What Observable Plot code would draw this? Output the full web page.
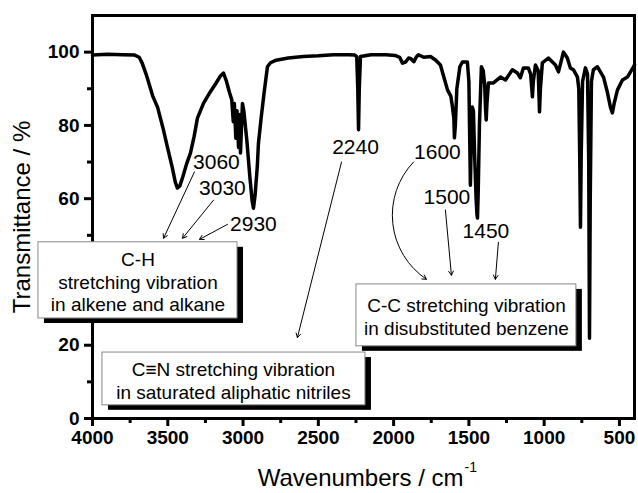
<!DOCTYPE html>
<html><head><meta charset="utf-8">
<script src="https://cdn.jsdelivr.net/npm/d3@7"></script>
<script src="https://cdn.jsdelivr.net/npm/@observablehq/plot@0.6"></script>
<style>body{margin:0;background:#fff}</style>
</head><body><div id="chart"></div>
<script>
// IR spectrum: wavenumber (cm-1) and transmittance (%)
const wavenumber = [
  4000,3900,3800,3720,3690,3670,3640,3600,3568,3530,
  3502,3470,3450,3436,3420,3400,3375,3349,3325,3303,
  3263,3220,3180,3150,3130,3110,3090,3075,3065,3058,
  3048,3040,3030,3022,3017,3010,3004,2995,2975,2955,
  2940,2931,2920,2905,2898,2880,2860,2838,2818,2780,
  2700,2600,2500,2400,2300,2258,2245,2238,2233,2228,
  2220,2150,2050,1990,1960,1941,1920,1900,1888,1865,
  1850,1835,1800,1755,1720,1689,1665,1642,1620,1609,
  1600,1596,1590,1580,1560,1543,1510,1500,1494,1490,
  1486,1478,1470,1462,1452,1446,1443,1438,1430,1417,
  1405,1395,1390,1385,1380,1370,1337,1290,1257,1211,
  1178,1158,1138,1105,1090,1082,1078,1072,1058,1040,
  1034,1031,1025,1012,972,925,905,872,846,826,
  806,779,770,764,759,754,745,726,712,704,
  699,694,686,673,646,606,580,560,547,535,
  513,480,447,407,400
];
const transmittance = [
  99.2,99.4,99.3,99.2,98.6,97,93.5,88,85,79,
  74,68.5,64.5,62.9,63.5,66,69.5,72.5,77,82,
  86,89,91.5,93.5,94.3,92,89,87,81,86,
  76.5,84,74,83,72.5,80,86,84,76,66,
  59.5,57.4,61,69,75,82,89,96,97.1,97.8,
  98.4,98.8,99,99.3,99.3,99.2,98.8,90,78.8,90,
  98.8,99.3,99.3,99.1,98.6,97,97.3,98.4,98.3,97.4,
  98.6,99.3,98.6,98.8,97.8,96.5,93,89.7,88,85,
  82,76.6,80,90,96,97.3,97.3,92,75,63.7,
  72,85,84,72,60,55.5,54.7,62,80,96,
  95,91,85,81.5,86,91.6,91.6,93.2,92.4,95.2,
  94.3,93,95.7,95.7,94,90,87.8,92,96.5,95,
  88,83.7,90,97.1,98.4,96.5,94.6,100,98.4,95.7,
  95.2,93.2,90,72,52.2,72,92,95.7,94,70,
  21.9,60,92,95.2,96,93.2,89,85,83.4,86,
  89.7,92.4,93.2,96,96.5
];

// axis ticks (the 40 label is hidden behind the C-H box in the reference)
const xTicks = [4000,3500,3000,2500,2000,1500,1000,500];
const xMinorTicks = [3750,3250,2750,2250,1750,1250,750];
const yTicks = [0,20,40,60,80,100];
const yTickLabels = ["0","20","","60","80","100"];
const yMinorTicks = [10,30,50,70,90];

// peak labels (data units)
const peakLabels = ["3060","3030","2930","2240","1600","1500","1450"];
const peakLabelX = [3177,3137,2931,2253,1709,1646,1387];
const peakLabelY = [70.0,62.9,53.0,74.1,72.7,60.4,51.1];

// straight arrows (data units)
const arrowX1 = [3323,3196,3103,2346,1656,1304];
const arrowY1 = [67.3,59.6,53.0,70.0,56.9,48.1];
const arrowX2 = [3528,3402,3289,2639,1616,1324];
const arrowY2 = [49.2,49.2,48.9,22.1,39.1,38.0];
// curved arrow from the 1600 label
const curvedX1 = [1868], curvedY1 = [70.0], curvedX2 = [1782], curvedY2 = [38.0];

// annotation boxes (data units)
const boxText = [
  "C-H\nstretching vibration\nin alkene and alkane",
  "C\u2261N stretching vibration\nin saturated aliphatic nitriles",
  "C-C stretching vibration\nin disubstituted benzene"
];
const boxX1 = [4359,3934,2247];
const boxX2 = [3037,2187,786];
const boxY1 = [48.1,18.0,36.6];
const boxY2 = [27.3,3.6,19.7];
const boxTextX = [3698,3064,1516];
const boxTextY = [37.4,10.4,27.9];

const spectrum = wavenumber.map((w, i) => ({w, t: transmittance[i]}));
const peaks = peakLabels.map((s, i) => ({s, x: peakLabelX[i], y: peakLabelY[i]}));
const arrows = arrowX1.map((_, i) => ({x1: arrowX1[i], y1: arrowY1[i], x2: arrowX2[i], y2: arrowY2[i]}));
const curved = curvedX1.map((_, i) => ({x1: curvedX1[i], y1: curvedY1[i], x2: curvedX2[i], y2: curvedY2[i]}));
const boxes = boxText.map((s, i) => ({s, x1: boxX1[i], x2: boxX2[i], y1: boxY1[i], y2: boxY2[i], tx: boxTextX[i], ty: boxTextY[i]}));

const chart = Plot.plot({
  width: 638, height: 493,
  marginLeft: 92, marginRight: 4, marginTop: 15, marginBottom: 75,
  style: {fontFamily: "'Liberation Sans', Arial, Helvetica, sans-serif", background: "white", color: "black", overflow: "visible"},
  x: {domain: [4000, 400], label: null},
  y: {domain: [0, 110], label: null},
  marks: [
    Plot.axisX(xTicks, {tickSize: 8, tickPadding: 4, strokeWidth: 3, fontSize: 19, fontWeight: "bold", tickFormat: d => String(d), label: null}),
    Plot.axisX(xMinorTicks, {tickSize: 5, strokeWidth: 3, tickFormat: () => "", label: null}),
    Plot.axisY(yTicks, {tickSize: 8, tickPadding: 5, strokeWidth: 3, fontSize: 19, fontWeight: "bold", tickFormat: d => yTickLabels[yTicks.indexOf(d)], label: null}),
    Plot.axisY(yMinorTicks, {tickSize: 5, strokeWidth: 3, tickFormat: () => "", label: null}),
    Plot.line(spectrum, {x: "w", y: "t", stroke: "black", strokeWidth: 3.5, strokeLinejoin: "round"}),
    Plot.frame({stroke: "black", strokeWidth: 3}),
    Plot.text(peaks, {x: "x", y: "y", text: "s", fontSize: 21, lineAnchor: "middle", textAnchor: "middle"}),
    Plot.arrow(arrows, {x1: "x1", y1: "y1", x2: "x2", y2: "y2", stroke: "black", strokeWidth: 1, headLength: 7}),
    Plot.arrow(curved, {x1: "x1", y1: "y1", x2: "x2", y2: "y2", stroke: "black", strokeWidth: 1, headLength: 7, bend: -50}),
    Plot.rect(boxes, {x1: "x1", x2: "x2", y1: "y1", y2: "y2", fill: "black", dx: 6, dy: 5}),
    Plot.rect(boxes, {x1: "x1", x2: "x2", y1: "y1", y2: "y2", fill: "white", stroke: "#888", strokeWidth: 1}),
    Plot.text(boxes, {x: "tx", y: "ty", text: "s", fontSize: 19, lineHeight: 1.18, lineAnchor: "middle", textAnchor: "middle"}),
    Plot.text(["Transmittance / %"], {text: d => d, frameAnchor: "left", rotate: -90, dx: -70, fontSize: 24, lineAnchor: "middle", textAnchor: "middle"}),
    Plot.text(["Wavenumbers / cm"], {text: d => d, frameAnchor: "bottom", textAnchor: "end", dx: 100, dy: 67, lineAnchor: "bottom", fontSize: 24}),
    Plot.text(["-1"], {text: d => d, frameAnchor: "bottom", textAnchor: "start", dx: 101, dy: 53, lineAnchor: "bottom", fontSize: 14})
  ]
});
document.getElementById("chart").appendChild(chart);
</script>
</body></html>
